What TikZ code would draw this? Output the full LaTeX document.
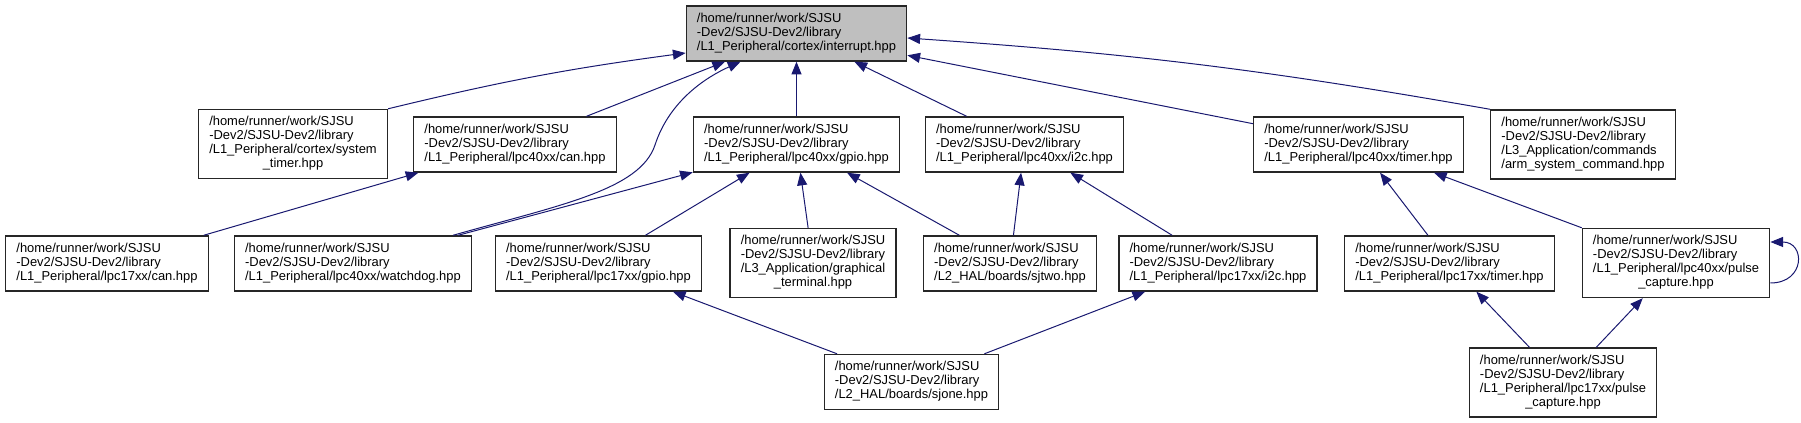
\documentclass[tikz,border=0pt]{standalone}
\usepackage{fontspec}
\setmainfont{Liberation Sans}
\usetikzlibrary{arrows.meta,calc}
\definecolor{depblue}{HTML}{191970}
\newcommand{\fpath}[1]{\begin{tabular}{@{}l@{}}#1\end{tabular}}
\newcommand{\lastline}[1]{\multicolumn{1}{@{}c@{}}{#1}}
\tikzset{
    file/.style={
        draw=black!85, line width=1pt, fill=white,
        inner xsep=8pt, inner ysep=4.9pt,
        font=\fontsize{9.7}{10.5}\selectfont
    },
    current file/.style={file, fill=black!25},
    dep/.style={
        draw=depblue, line width=0.75pt,
        -{Triangle[length=9.5pt,width=7.5pt]}
    }
}

\begin{document}
\begin{tikzpicture}[x=0.75pt, y=-0.75pt]
    \useasboundingbox (0,0) rectangle (1801,423);
    % top
    \node[current file] (interrupt) at (796.5,33.5) {\fpath{/home/runner/work/SJSU\\-Dev2/SJSU-Dev2/library\\/L1\_Peripheral/cortex/interrupt.hpp}};
    % second row
    \node[file] (systimer) at (293,144) {\fpath{/home/runner/work/SJSU\\-Dev2/SJSU-Dev2/library\\/L1\_Peripheral/cortex/system\\\lastline{\_timer.hpp}}};
    \node[file] (can40) at (515,144.5) {\fpath{/home/runner/work/SJSU\\-Dev2/SJSU-Dev2/library\\/L1\_Peripheral/lpc40xx/can.hpp}};
    \node[file] (gpio40) at (796.5,144.5) {\fpath{/home/runner/work/SJSU\\-Dev2/SJSU-Dev2/library\\/L1\_Peripheral/lpc40xx/gpio.hpp}};
    \node[file] (i2c40) at (1024.5,144.5) {\fpath{/home/runner/work/SJSU\\-Dev2/SJSU-Dev2/library\\/L1\_Peripheral/lpc40xx/i2c.hpp}};
    \node[file] (timer40) at (1358.5,144.5) {\fpath{/home/runner/work/SJSU\\-Dev2/SJSU-Dev2/library\\/L1\_Peripheral/lpc40xx/timer.hpp}};
    \node[file] (armcmd) at (1583,144.5) {\fpath{/home/runner/work/SJSU\\-Dev2/SJSU-Dev2/library\\/L3\_Application/commands\\/arm\_system\_command.hpp}};
    % third row
    \node[file] (can17) at (107,263.5) {\fpath{/home/runner/work/SJSU\\-Dev2/SJSU-Dev2/library\\/L1\_Peripheral/lpc17xx/can.hpp}};
    \node[file] (watchdog) at (353,263.5) {\fpath{/home/runner/work/SJSU\\-Dev2/SJSU-Dev2/library\\/L1\_Peripheral/lpc40xx/watchdog.hpp}};
    \node[file] (gpio17) at (598.5,263.5) {\fpath{/home/runner/work/SJSU\\-Dev2/SJSU-Dev2/library\\/L1\_Peripheral/lpc17xx/gpio.hpp}};
    \node[file] (graphterm) at (813,263) {\fpath{/home/runner/work/SJSU\\-Dev2/SJSU-Dev2/library\\/L3\_Application/graphical\\\lastline{\_terminal.hpp}}};
    \node[file] (sjtwo) at (1010,263.5) {\fpath{/home/runner/work/SJSU\\-Dev2/SJSU-Dev2/library\\/L2\_HAL/boards/sjtwo.hpp}};
    \node[file] (i2c17) at (1218,263.5) {\fpath{/home/runner/work/SJSU\\-Dev2/SJSU-Dev2/library\\/L1\_Peripheral/lpc17xx/i2c.hpp}};
    \node[file] (timer17) at (1449.5,263.5) {\fpath{/home/runner/work/SJSU\\-Dev2/SJSU-Dev2/library\\/L1\_Peripheral/lpc17xx/timer.hpp}};
    \node[file] (pulse40) at (1676,263) {\fpath{/home/runner/work/SJSU\\-Dev2/SJSU-Dev2/library\\/L1\_Peripheral/lpc40xx/pulse\\\lastline{\_capture.hpp}}};
    % bottom
    \node[file] (sjone) at (911.5,382) {\fpath{/home/runner/work/SJSU\\-Dev2/SJSU-Dev2/library\\/L2\_HAL/boards/sjone.hpp}};
    \node[file] (pulse17) at (1563,382.5) {\fpath{/home/runner/work/SJSU\\-Dev2/SJSU-Dev2/library\\/L1\_Peripheral/lpc17xx/pulse\\\lastline{\_capture.hpp}}};

    % includes
    \draw[dep] (systimer.north east) to[bend left=3] ($(interrupt.west)+(0,19.5)$);
    \draw[dep] (can40) -- (interrupt);
    \draw[dep] ($(watchdog.north)+(100,0)$) .. controls (560,205) and (640,190) .. (655,145)
        .. controls (668,105) and (700,80) .. ($(interrupt.south)+(-56,0)$);
    \draw[dep] (gpio40) -- (interrupt);
    \draw[dep] (i2c40) -- (interrupt);
    \draw[dep] (timer40) -- (interrupt);
    \draw[dep] (armcmd.north west) to[bend right=3] ($(interrupt.east)+(0,4.5)$);
    \draw[dep] (can17) -- (can40);
    \draw[dep] (watchdog) -- (gpio40);
    \draw[dep] (gpio17) -- (gpio40);
    \draw[dep] (graphterm) -- (gpio40);
    \draw[dep] (sjtwo) -- (gpio40);
    \draw[dep] (sjtwo) -- (i2c40);
    \draw[dep] (i2c17) -- (i2c40);
    \draw[dep] (timer17) -- (timer40);
    \draw[dep] (pulse40) -- (timer40);
    \draw[dep] ($(pulse40.east)+(0,20)$) to[out=0,in=0,looseness=2.2] ($(pulse40.east)+(0,-21)$);
    \draw[dep] (sjone) -- (gpio17);
    \draw[dep] (sjone) -- (i2c17);
    \draw[dep] (pulse17) -- (timer17);
    \draw[dep] (pulse17) -- (pulse40);
\end{tikzpicture}
\end{document}
